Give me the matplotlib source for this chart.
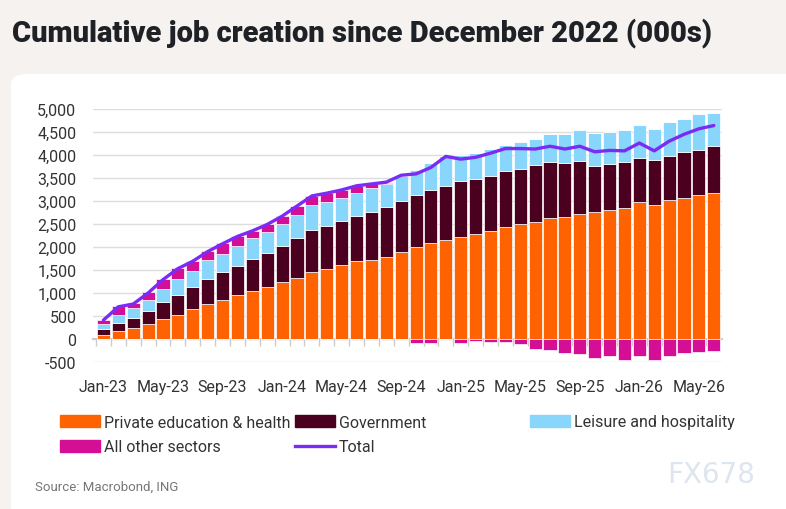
import matplotlib.pyplot as plt
from matplotlib.patches import FancyBboxPatch, Patch
from matplotlib.lines import Line2D
import numpy as np

plt.rcParams['font.family'] = ['Roboto', 'DejaVu Sans']

# Monthly data, Jan-23 to Jun-26 (000s, cumulative since Dec-22)
months = ['Jan-23', 'Feb-23', 'Mar-23', 'Apr-23', 'May-23', 'Jun-23', 'Jul-23', 'Aug-23',
          'Sep-23', 'Oct-23', 'Nov-23', 'Dec-23', 'Jan-24', 'Feb-24', 'Mar-24', 'Apr-24',
          'May-24', 'Jun-24', 'Jul-24', 'Aug-24', 'Sep-24', 'Oct-24', 'Nov-24', 'Dec-24',
          'Jan-25', 'Feb-25', 'Mar-25', 'Apr-25', 'May-25', 'Jun-25', 'Jul-25', 'Aug-25',
          'Sep-25', 'Oct-25', 'Nov-25', 'Dec-25', 'Jan-26', 'Feb-26', 'Mar-26', 'Apr-26',
          'May-26', 'Jun-26']

private_edu_health = [87, 174, 239, 326, 435, 522, 645, 761, 841, 952, 1054, 1141,
                      1249, 1336, 1451, 1531, 1603, 1689, 1726, 1791, 1899, 2007, 2094, 2159,
                      2224, 2282, 2347, 2440, 2498, 2541, 2628, 2657, 2715, 2758, 2801, 2845,
                      2975, 2910, 3018, 3076, 3126, 3184]
government = [130, 174, 225, 283, 370, 435, 479, 537, 609, 630, 693, 736,
              780, 866, 924, 924, 960, 982, 1032, 1075, 1097, 1119, 1148, 1162,
              1206, 1191, 1205, 1206, 1187, 1235, 1227, 1177, 1162, 1011, 1011, 996,
              950, 974, 967, 982, 989, 1018]
leisure_hospitality = [109, 174, 203, 239, 275, 341, 362, 420, 391, 450, 455, 448,
                       469, 491, 535, 520, 498, 499, 520, 499, 542, 556, 577, 650,
                       570, 563, 585, 578, 600, 570, 600, 621, 664, 715, 686, 700,
                       730, 679, 737, 722, 773, 708]
other_sectors = [80, 196, 109, 167, 218, 239, 203, 196, 240, 200, 145, 166,
                 173, 195, 209, 195, 181, 166, 85, 25, 10, -80, -80, 0,
                 -80, -50, -70, -60, -100, -210, -230, -300, -320, -410, -360, -450,
                 -380, -450, -380, -310, -280, -250]
total = [410, 700, 760, 1000, 1290, 1530, 1690, 1900, 2070, 2230, 2350, 2490,
         2670, 2890, 3110, 3170, 3240, 3330, 3370, 3410, 3560, 3590, 3730, 3970,
         3910, 3950, 4040, 4140, 4140, 4130, 4190, 4130, 4190, 4070, 4100, 4090,
         4260, 4090, 4300, 4450, 4570, 4640]

labels = ['Private education & health', 'Government', 'Leisure and hospitality',
          'All other sectors', 'Total']
colors = ['#ff6200', '#4c0020', '#89d6fd', '#d40f95', '#7c2bf5']

fig = plt.figure(figsize=(7.86, 5.10), dpi=100)
fig.patch.set_facecolor('#f5f2ef')

# white rounded panel behind the chart
panel = FancyBboxPatch((11 / 786, -0.05), 790 / 786, 1 - 75 / 510 + 0.05,
                       boxstyle='round,pad=0,rounding_size=0.02',
                       transform=fig.transFigure, facecolor='white',
                       edgecolor='none', zorder=-5)
fig.patches.append(panel)

fig.text(12 / 786, 1 - 33 / 510, 'Cumulative job creation since December 2022 (000s)',
         fontsize=21, fontweight='black', color='#1e2226', va='center', ha='left')

ax = fig.add_axes([93 / 786, 1 - 363 / 510, (722 - 93) / 786, (363 - 110) / 510])
ax.set_zorder(2)
ax.set_facecolor('white')

x = np.arange(len(months))
pos_other = np.clip(other_sectors, 0, None)
neg_other = np.clip(other_sectors, None, 0)
b1 = np.array(private_edu_health)
b2 = b1 + np.array(government)
b3 = b2 + np.array(leisure_hospitality)

w = 0.88
ec = dict(edgecolor='white', linewidth=0.5)
ax.bar(x, private_edu_health, w, color=colors[0], zorder=3, **ec)
ax.bar(x, government, w, bottom=b1, color=colors[1], zorder=3, **ec)
ax.bar(x, leisure_hospitality, w, bottom=b2, color=colors[2], zorder=3, **ec)
ax.bar(x, pos_other, w, bottom=b3, color=colors[3], zorder=3, **ec)
ax.bar(x, neg_other, w, color=colors[3], zorder=3, **ec)
ax.plot(x, total, color=colors[4], linewidth=2.4, zorder=4, solid_capstyle='round')

ax.set_xlim(-0.7, 41.55)
ax.set_ylim(-500, 5000)
ax.set_yticks(np.arange(-500, 5001, 500))
ax.set_yticklabels([f'{v:,}' for v in range(-500, 5001, 500)])
ax.grid(axis='y', color='#dddddd', linewidth=1, zorder=0)
ax.tick_params(axis='y', length=0, pad=12, labelsize=11.5, labelcolor='#333333')

for s in ['top', 'right', 'left']:
    ax.spines[s].set_visible(False)
ax.spines['bottom'].set_position(('data', 0))
ax.spines['bottom'].set_color('#cccccc')
ax.spines['bottom'].set_linewidth(1.5)
ax.spines['bottom'].set_zorder(2)
ax.set_xticks(x - 0.5)
ax.tick_params(axis='x', length=5, color='#cccccc', width=1, labelbottom=False)

sec = ax.secondary_xaxis('bottom')
sec.set_xticks(x[::4])
sec.set_xticklabels(months[::4])
sec.tick_params(length=0, pad=12, labelsize=11.5, labelcolor='#333333')
sec.spines['bottom'].set_visible(False)

handles = [Patch(color=colors[0]), Patch(color=colors[1]), Patch(color=colors[2]),
           Patch(color=colors[3]), Line2D([0], [0], color=colors[4], linewidth=2.4)]
# legend rows: first row three entries, second row two
leg_pos = [(60, 423), (295, 423), (530, 423), (60, 448), (295, 448)]
for h, lab, (lx, ly) in zip(handles, labels, leg_pos):
    fig.legend([h], [lab], loc='center left', bbox_to_anchor=(lx / 786, 1 - ly / 510),
               frameon=False, fontsize=11.5, handlelength=2.5, handleheight=0.7,
               handletextpad=0.25, borderpad=0, borderaxespad=0, labelcolor='#333333')

fig.text(35 / 786, 1 - 487 / 510, 'Source: Macrobond, ING', fontsize=9.5,
         color='#777777', va='center', ha='left')
fig.text(755 / 786, 1 - 475 / 510, 'FX678', fontsize=20, color='#dde5ef',
         va='center', ha='right', fontfamily='DejaVu Sans')

fig.savefig('out.png', dpi=100, facecolor=fig.get_facecolor())
